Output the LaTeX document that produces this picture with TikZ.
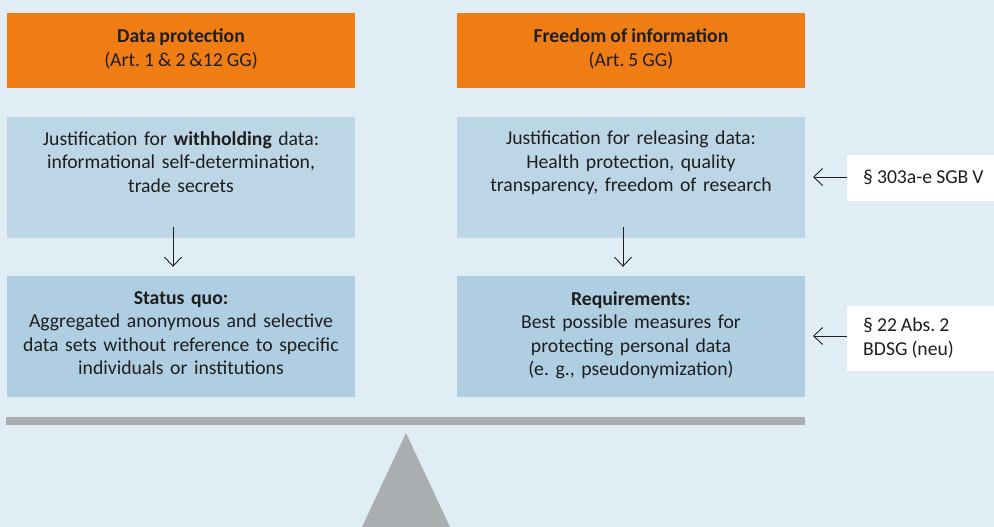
\documentclass[tikz,border=0pt]{standalone}
\usepackage{fontspec}
\setmainfont{Carlito}[WordSpace=0.9]
\usetikzlibrary{arrows.meta}
\definecolor{bgblue}{RGB}{224,237,245}
\definecolor{paleblue}{RGB}{189,214,229}
\definecolor{midblue}{RGB}{175,206,225}
\definecolor{headorange}{RGB}{239,125,20}
\definecolor{beamgray}{RGB}{171,174,177}
\definecolor{inkdark}{RGB}{30,30,30}
\tikzset{
  headbox/.style={fill=headorange, draw=none, minimum width=348pt, minimum height=75pt,
    inner sep=0pt, align=center, text=inkdark, font=\fontsize{19.7}{23.5}\selectfont},
  upbox/.style={fill=paleblue, draw=none, minimum width=348pt, minimum height=121pt, inner sep=0pt},
  lowbox/.style={fill=midblue, draw=none, minimum width=348pt, minimum height=121pt, inner sep=0pt},
  boxtext/.style={anchor=north, text width=340pt, align=center, inner sep=0pt,
    text=inkdark, font=\fontsize{19.7}{23.5}\selectfont},
  lawbox/.style={fill=white, draw=none, minimum width=147pt, inner sep=0pt},
  lawtext/.style={anchor=west, align=left, inner sep=0pt, text=inkdark,
    font=\fontsize{19.7}{23.5}\selectfont},
  arr/.style={draw=inkdark, line width=0.9pt, -{Straight Barb[length=9pt,width=17pt]}}
}
\begin{document}
\frenchspacing
\begin{tikzpicture}[x=1pt,y=-1pt]
  % canvas
  \fill[bgblue] (0,0) rectangle (994,527);
  \useasboundingbox (0,0) rectangle (994,527);

  % column headings
  \node[headbox] (dp) at (181,50.5) {};
  \node[headbox, fill=none, minimum size=0pt] (dpt) at (181,49) {\textbf{Data protection}\\(Art. 1 \& 2 \&12 GG)};
  \node[headbox] (fi) at (631,50.5) {};
  \node[headbox, fill=none, minimum size=0pt] (fit) at (631,49) {\textbf{Freedom of information}\\(Art. 5 GG)};

  % justification boxes
  \node[upbox] (jl) at (181,177.5) {};
  \node[boxtext] (jlt) at (181,131) {Justification for \textbf{withholding} data:\\informational self-determination,\\trade secrets};
  \node[upbox] (jr) at (631,177.5) {};
  \node[boxtext] (jrt) at (631,131) {Justification for releasing data:\\Health protection, quality\\transparency, freedom of research};

  % outcome boxes
  \node[lowbox] (sl) at (181,336.5) {};
  \node[boxtext] (slt) at (181,291) {\textbf{Status quo:}\\Aggregated anonymous and selective\\data sets without reference to specific\\individuals or institutions};
  \node[lowbox] (sr) at (631,336.5) {};
  \node[boxtext] (srt) at (631,291) {\textbf{Requirements:}\\Best possible measures for\\protecting personal data\\(e. g., pseudonymization)};

  % legal references
  \node[lawbox, minimum height=46pt] (l1) at (920.5,178) {};
  \node[lawtext] (l1t) at (863,177) {§ 303a-e SGB V};
  \node[lawbox, minimum height=65pt] (l2) at (920.5,338.5) {};
  \node[lawtext] (l2t) at (863,338) {§ 22 Abs. 2\\BDSG (neu)};

  % arrows
  \draw[arr] ([xshift=-8pt,yshift=11pt]jl.south) -- ([xshift=-8pt,yshift=9pt]sl.north);
  \draw[arr] ([xshift=-8pt,yshift=11pt]jr.south) -- ([xshift=-8pt,yshift=9pt]sr.north);
  \coordinate (t1) at (813,177);
  \coordinate (t2) at (813,336);
  \draw[arr] (l1.west |- t1) -- (t1);
  \draw[arr] (l2.west |- t2) -- (t2);

  % balance
  \fill[beamgray] (6,417) rectangle (805,425);
  \fill[beamgray] (406,433) -- (450,527) -- (362,527) -- cycle;
\end{tikzpicture}
\end{document}
